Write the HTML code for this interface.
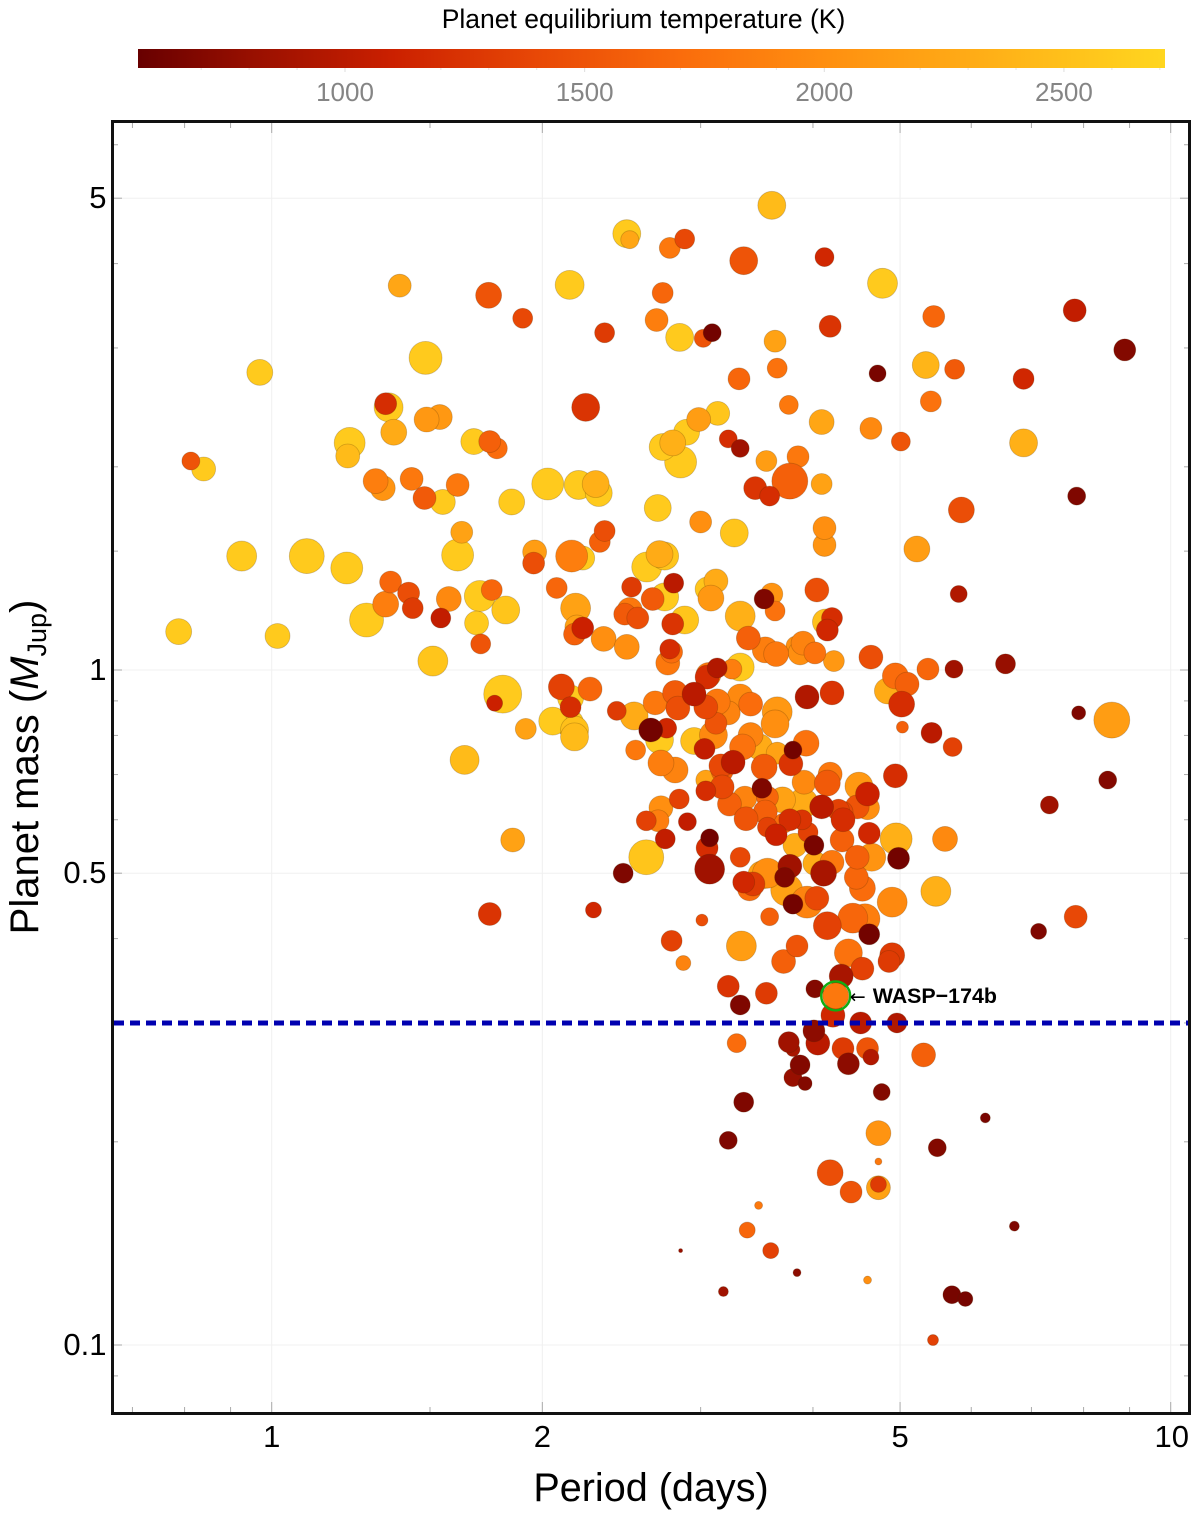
<!DOCTYPE html>
<html lang="en">
<head>
<meta charset="utf-8">
<title>Planet mass vs period</title>
<style>
html,body{margin:0;padding:0;background:#fff;}
svg{display:block;font-family:"Liberation Sans",Arial,sans-serif;}
</style>
</head>
<body>
<svg id="chart" xmlns="http://www.w3.org/2000/svg" width="1200" height="1521" viewBox="0 0 1200 1521">
  <defs>
    <linearGradient id="cbar-gradient" x1="0" x2="1" y1="0" y2="0"></linearGradient>
  </defs>
  <rect x="0" y="0" width="1200" height="1521" fill="#fff"/>
  <text x="643.5" y="28" font-size="26.5" text-anchor="middle" fill="#000">Planet equilibrium temperature (K)</text>
  <rect x="138" y="49" width="1027" height="19" fill="url(#cbar-gradient)"/>
  <g id="cbar-ticks"></g>
  <g id="grid"></g>
  <g id="axis-ticks"></g>
  <g id="points"></g>
  <g id="reference"></g>
  <g id="highlight"></g>
  <rect x="112.5" y="121.5" width="1077" height="1292" fill="none" stroke="#111" stroke-width="3"/>
  <g id="tick-labels"></g>
  <text x="651" y="1501" font-size="39.6" text-anchor="middle" fill="#000">Period (days)</text>
  <text transform="translate(38,767) rotate(-90)" font-size="40" text-anchor="middle" fill="#000">Planet mass (<tspan font-style="italic">M</tspan><tspan font-size="27" dy="8">Jup</tspan><tspan dy="-8">)</tspan></text>
</svg>
<script>
const periods = [
 .788,1.015,.926,.840,.813,.970,1.094,1.212,1.275,1.221,
 1.215,1.349,1.339,1.367,1.388,1.483,1.538,1.487,1.678,1.748,
 1.780,1.743,1.902,1.305,1.329,1.431,1.479,1.550,1.610,1.849,
 2.028,2.195,2.311,2.293,2.688,2.85,2.722,2.793,2.894,2.985,
 3.134,2.235,1.627,1.610,1.356,1.420,1.339,1.435,1.542,1.574,
 1.704,1.757,1.821,1.690,1.708,1.511,1.961,1.956,2.156,2.218,
 2.317,2.346,2.613,2.70,2.736,2.075,2.514,2.80,2.653,2.736,
 2.88,2.793,2.502,2.47,2.554,2.178,2.185,2.172,2.218,2.34,
 2.483,2.772,2.785,2.758,
 3.60,2.483,2.502,2.772,2.88,4.12,3.35,4.78,2.145,2.722,
 5.45,2.68,2.346,2.843,3.02,3.09,4.18,3.63,3.65,4.72,
 5.34,5.75,3.31,3.76,4.09,4.64,5.01,5.41,3.55,3.22,
 3.32,3.85,3.77,3.45,3.58,4.09,3.00,3.27,4.12,4.12,
 5.22,5.85,3.53,3.60,4.04,3.32,4.20,4.13,4.15,3.12,
 3.08,3.05,3.63,3.39,3.54,3.83,3.90,3.64,3.87,4.02,
 4.22,4.64,5.74,5.37,4.94,5.09,4.84,5.02,
 3.32,3.25,3.13,3.05,3.06,2.10,2.26,2.15,2.15,2.145,
 2.172,2.172,2.42,2.53,2.67,2.81,2.83,2.95,3.04,3.13,
 3.22,3.32,3.41,3.65,3.63,3.94,4.20,2.64,2.75,2.70,
 2.54,2.95,3.10,3.03,3.12,3.41,3.34,3.49,3.65,3.80,
 3.93,3.78,3.53,3.26,3.16,3.17,3.17,3.04,3.04,2.71,
 2.81,2.84,2.71,2.69,2.61,2.74,2.90,2.61,2.46,2.28,
 3.01,3.07,3.05,3.07,3.32,3.36,3.23,3.37,3.51,3.56,
 3.70,3.91,4.18,4.15,4.50,4.60,4.94,4.48,4.60,4.31,
 4.09,3.90,3.54,3.77,3.89,3.71,3.56,3.64,3.95,3.82,
 4.01,4.32,4.27,4.31,4.62,4.95,5.61,4.65,4.48,4.20,
 4.02,4.98,3.77,4.11,3.72,3.56,3.51,3.35,3.43,3.40,
 3.74,3.94,4.04,3.80,4.47,4.54,4.90,5.48,4.43,4.57,
 3.58,4.15,4.62,3.33,3.71,3.84,4.38,4.54,4.90,4.86,
 4.30,4.02,3.22,3.55,3.32,4.21,4.52,4.96,3.29,4.01,
 4.05,3.76,3.80,4.32,4.60,4.64,5.31,4.38,3.87,3.80,
 3.92,4.77,3.35,3.22,4.73,5.50,6.22,4.18,4.73,4.73,
 4.73,4.41,3.48,3.38,3.59,6.70,2.85,3.84,4.60,3.18,
 5.71,5.91,5.44,
 8.60,7.90,8.51,7.33,7.13,7.84,6.55,5.81,7.86,6.86,
 6.86,7.82,8.89,5.03,5.42,5.72,
 1.917,1.807,1.77,2.054,1.639,1.854,1.748,2.785,2.87
];
const masses = [
 1.14,1.123,1.475,1.985,2.04,2.76,1.475,1.416,1.186,2.17,
 2.075,2.45,2.48,2.25,3.71,2.90,2.37,2.35,2.18,2.18,
 2.13,3.59,3.32,1.905,1.86,1.919,1.798,1.774,1.88,1.774,
 1.886,1.88,1.829,1.886,1.738,2.033,2.14,2.17,2.25,2.35,
 2.40,2.45,1.60,1.48,1.35,1.30,1.252,1.235,1.194,1.274,
 1.287,1.314,1.227,1.174,1.093,1.031,1.496,1.44,1.475,1.465,
 1.548,1.607,1.421,1.485,1.475,1.323,1.327,1.345,1.274,1.283,
 1.186,1.170,1.227,1.210,1.194,1.235,1.158,1.130,1.154,1.112,
 1.082,1.074,1.063,1.024,
 4.88,4.43,4.34,4.22,4.35,4.09,4.04,3.74,3.72,3.62,
 3.34,3.30,3.16,3.11,3.10,3.16,3.23,3.07,2.80,2.75,
 2.83,2.79,2.70,2.47,2.33,2.28,2.18,2.50,2.04,2.20,
 2.13,2.07,1.905,1.86,1.81,1.886,1.657,1.596,1.623,1.532,
 1.511,1.726,1.274,1.296,1.314,1.202,1.194,1.178,1.146,1.355,
 1.278,1.318,1.223,1.115,1.071,1.085,1.096,1.056,1.060,1.06,
 1.031,1.045,1.003,1.003,.980,.953,.931,.890,
 1.01,1.003,1.007,.976,.983,.944,.937,.909,.881,.834,
 .796,.815,.870,.855,.894,.925,.878,.921,.881,.897,
 .864,.912,.890,.867,.832,.912,.925,.815,.820,.788,
 .761,.785,.801,.764,.834,.801,.769,.769,.753,.761,
 .779,.726,.718,.730,.721,.708,.671,.662,.687,.728,
 .711,.644,.625,.598,.598,.562,.596,.528,.500,.441,
 .426,.564,.545,.507,.528,.646,.633,.602,.668,.648,
 .642,.682,.701,.680,.673,.655,.697,.627,.625,.616,
 .627,.635,.616,.600,.600,.593,.585,.570,.575,.550,
 .550,.600,.620,.560,.573,.562,.562,.528,.528,.519,
 .517,.526,.512,.500,.493,.500,.497,.485,.482,.474,
 .472,.453,.459,.450,.493,.475,.453,.470,.429,.428,
 .431,.418,.406,.390,.370,.390,.381,.361,.378,.370,
 .352,.337,.340,.332,.319,.308,.300,.300,.280,.292,
 .280,.281,.274,.275,.275,.267,.269,.261,.260,.249,
 .244,.237,.229,.201,.206,.196,.217,.180,.187,.171,
 .173,.1685,.161,.148,.138,.150,.138,.128,.1248,.120,
 .1187,.117,.1017,
 .843,.864,.687,.631,.410,.431,1.021,1.296,1.81,2.17,
 2.70,3.41,2.98,.823,.807,.769,
 .818,.921,.893,.840,.736,.560,.435,.397,.368
];
const radii = [
 1.3,1.25,1.5,1.2,.9,1.3,1.75,1.6,1.7,1.55,
 1.2,1.45,1.1,1.3,1.15,1.65,1.25,1.25,1.3,1.1,
 1.05,1.3,1.0,1.25,1.25,1.15,1.15,1.25,1.15,1.3,
 1.6,1.45,1.35,1.35,1.35,1.6,1.35,1.3,1.3,1.2,
 1.2,1.4,1.1,1.6,1.1,1.1,1.3,1.05,1.0,1.25,
 1.55,1.05,1.4,1.2,1.0,1.5,1.2,1.1,1.6,1.2,
 1.05,1.05,1.5,1.35,1.4,1.05,1.0,1.0,1.15,1.4,
 1.4,1.1,1.25,1.1,1.1,1.5,1.2,1.1,1.1,1.25,
 1.25,1.0,1.1,1.2,
 1.4,1.4,.9,1.05,1.0,.95,1.4,1.5,1.45,1.05,
 1.1,1.15,1.0,1.4,.9,.9,1.1,1.1,1.0,.85,
 1.35,1.0,1.1,.95,1.25,1.1,.95,1.05,1.05,.9,
 .9,1.1,1.8,1.15,1.0,1.05,1.1,1.4,1.15,1.15,
 1.3,1.3,1.0,1.1,1.2,1.5,1.05,1.3,1.1,1.2,
 1.3,1.2,1.0,1.2,1.3,1.0,1.2,1.25,1.2,1.1,
 1.05,1.2,.9,1.1,1.3,1.2,1.3,1.3,
 1.4,1.0,1.0,1.2,1.25,1.3,1.2,1.3,1.05,1.4,
 1.4,1.4,.95,1.4,1.2,1.25,1.2,1.2,1.2,1.3,
 1.2,1.3,1.2,1.5,1.4,1.2,1.2,1.2,1.0,1.4,
 1.0,1.35,1.4,1.05,1.1,1.25,1.3,1.3,1.1,.9,
 1.3,1.2,1.3,1.2,1.2,1.1,1.2,1.0,1.0,1.3,
 1.3,1.0,1.2,1.1,1.0,1.0,.9,1.75,1.0,.8,
 .6,.9,1.1,1.5,1.0,1.2,1.2,1.2,1.0,1.1,
 1.3,1.2,1.2,1.3,1.4,1.2,1.2,1.2,1.2,1.1,
 1.2,1.5,1.2,1.1,1.0,1.0,1.0,1.1,1.0,1.2,
 1.0,1.2,1.1,1.2,1.1,1.6,1.25,1.4,1.2,1.2,
 1.2,1.1,1.2,1.3,1.0,1.5,1.4,1.1,1.2,1.2,
 1.6,1.6,1.2,1.0,1.2,1.3,1.5,1.5,1.5,1.5,
 .9,1.4,1.05,1.5,1.2,1.1,1.4,1.15,1.25,1.1,
 1.2,.9,1.1,1.1,1.0,1.2,1.1,1.0,.95,1.1,
 1.2,1.05,.7,1.1,1.1,.8,1.2,1.1,1.0,.9,
 .7,.85,1.0,.9,1.25,.9,.5,1.3,.35,1.2,
 .8,1.1,.4,.8,.8,.5,.2,.4,.4,.5,
 .9,.75,.55,
 1.8,.7,.9,.9,.8,1.15,1.0,.85,.9,1.4,
 1.05,1.15,1.1,.6,1.05,.95,
 1.05,1.9,.8,1.4,1.45,1.2,1.15,1.05,.75
];
const temps = [
 2600,2600,2600,2600,1500,2600,2600,2600,2600,2600,
 2450,2600,1200,2300,2250,2600,2100,2100,2600,1600,
 1700,1500,1400,1850,2050,1800,1550,2600,1800,2600,
 2600,2600,2600,2350,2600,2600,2600,2350,2600,2150,
 2550,1250,2200,2600,1650,1450,1850,1300,1050,1950,
 2600,1650,2550,2600,1500,2550,2150,1450,1850,2600,
 1600,1450,2600,2300,2550,1650,1300,1000,1550,2600,
 2550,1250,1800,1550,1450,2200,2200,1600,1100,2000,
 2000,1200,1700,1800,
 2450,2600,2250,1800,1400,1150,1500,2600,2600,1650,
 1650,1850,1300,2600,1500,620,1250,2200,1750,650,
 2400,1550,1650,1800,2250,1950,1500,1750,2150,1200,
 850,1800,1600,1250,1200,2200,2000,2550,2000,2050,
 2150,1450,680,2050,1450,2350,1200,2500,1150,2300,
 2100,2550,1750,1600,1850,2000,1900,1800,2000,1750,
 2100,1450,850,1650,1700,1600,2300,1200,
 2600,1850,950,1200,1800,1350,1650,2600,1200,2600,
 2450,2500,1300,2300,1800,1550,1450,1000,1400,1800,
 1900,1950,1700,2100,2000,950,1250,620,1150,2600,
 1800,2500,1950,1050,1500,1900,1750,2300,2200,620,
 1750,1250,1550,1000,1400,1600,1400,1200,2200,1850,
 1900,1350,2000,1850,1350,1050,1050,2550,680,1150,
 1450,620,1200,850,1400,1900,1600,1500,680,1650,
 2200,1950,1800,1550,2100,1100,1200,1500,2000,1400,
 1000,2300,1600,1200,1250,1700,1350,1100,1350,2300,
 650,1200,1350,1600,1150,2350,1950,2050,1600,1800,
 2300,620,850,900,680,2000,2200,1150,1300,1700,
 2200,1900,1400,620,1650,1700,1950,2350,1650,1850,
 1600,1350,620,2150,1600,1500,1750,1350,1300,1300,
 900,700,1250,1300,680,1150,1000,950,1700,750,
 1000,850,900,1300,1500,950,1600,750,700,800,
 700,700,680,680,2050,700,650,1450,1800,2200,
 1300,1500,1800,1650,1350,680,800,750,2000,850,
 640,640,1350,
 2150,680,700,850,680,1400,800,950,680,2350,
 1150,1050,700,1600,1000,1350,
 2200,2600,1100,2600,2450,2200,1250,1350,1900
];
const targetPeriod = [4.24];
const targetMass = [0.329];
const targetRadius = [1.3];
const targetTemp = [1800];
const referenceMass = [0.3];

const xMajorTicks = [1, 2, 5, 10];
const xMinorTicks = [0.7, 0.8, 0.9, 1.5, 3, 4, 6, 7, 8, 9];
const yLabelTicks = [5, 1, 0.5, 0.1];
const yLabelText = ["5", "1", "0.5", "0.1"];
const yMinorTicks = [6, 4, 3, 2, 1.5, 0.9, 0.8, 0.7, 0.6, 0.4, 0.3, 0.2, 0.09];
const colorbarTicks = [1000, 1500, 2000, 2500];
const colorbarMinorTicks = [700, 800, 900, 1200, 1300, 1400, 1700, 1800, 1900, 2200, 2300, 2400, 2600, 2700];
const rampTemps = [568, 800, 1100, 1400, 1700, 2000, 2300, 2711];
const rampColors = ["#680000", "#970f00", "#cb2000", "#e84806", "#fa6c0c", "#ff8f10", "#ffab16", "#ffd61f"];

const NS = "http://www.w3.org/2000/svg";
function xScale(p) { return 271.7 + 899 * Math.log10(p); }
function yScale(m) { return 670 - 675 * Math.log10(m); }
function rScale(r) { return r * 10; }
function cbarScale(t) { return 345 + (t - 1000) * 0.4793; }
function hex(c) { return [1, 3, 5].map(function (i) { return parseInt(c.substr(i, 2), 16); }); }
function tempColor(t) {
  let i = 0;
  while (i < rampTemps.length - 2 && t > rampTemps[i + 1]) i++;
  const f = Math.max(0, Math.min(1, (t - rampTemps[i]) / (rampTemps[i + 1] - rampTemps[i])));
  const a = hex(rampColors[i]), b = hex(rampColors[i + 1]);
  return "rgb(" + a.map(function (v, k) { return Math.round(v + (b[k] - v) * f); }).join(",") + ")";
}
function make(tag, parent, attrs, text) {
  const el = document.createElementNS(NS, tag);
  Object.keys(attrs).forEach(function (k) { el.setAttribute(k, attrs[k]); });
  if (text !== undefined) el.textContent = text;
  parent.appendChild(el);
  return el;
}

const gradient = document.getElementById("cbar-gradient");
rampTemps.forEach(function (t, i) {
  make("stop", gradient, { offset: ((t - 568) / (2711 - 568) * 100) + "%", "stop-color": rampColors[i] });
});

const cbarGroup = document.getElementById("cbar-ticks");
colorbarTicks.forEach(function (t) {
  const x = cbarScale(t);
  const tick = make("line", cbarGroup, { x1: x, x2: x, y1: 68, y2: 72, stroke: "#ddd", "stroke-width": 1 });
  
  
  const label = make("text", cbarGroup, { x: x, y: 101, "font-size": 26, "text-anchor": "middle", fill: "#858585" }, String(t));
  
  
});
colorbarMinorTicks.forEach(function (t) {
  const x = cbarScale(t);
  const tick = make("line", cbarGroup, { x1: x, x2: x, y1: 68, y2: 70, stroke: "#e4e4e4", "stroke-width": 1 });
  
  
});

const gridGroup = document.getElementById("grid");
const tickGroup = document.getElementById("axis-ticks");
const labelGroup = document.getElementById("tick-labels");
function xTick(p, len) {
  const x = xScale(p);
  const bottom = make("line", tickGroup, { x1: x, x2: x, y1: 1413, y2: 1413 - len, stroke: "#aaa", "stroke-width": 1 });
  
  
  const top = make("line", tickGroup, { x1: x, x2: x, y1: 122, y2: 122 + len, stroke: "#aaa", "stroke-width": 1 });
  
  
}
function yTick(m, len) {
  const y = yScale(m);
  const left = make("line", tickGroup, { x1: 113, x2: 113 + len, y1: y, y2: y, stroke: "#aaa", "stroke-width": 1 });
  
  
  const right = make("line", tickGroup, { x1: 1189, x2: 1189 - len, y1: y, y2: y, stroke: "#aaa", "stroke-width": 1 });
  
  
}
xMajorTicks.forEach(function (p) {
  const x = xScale(p);
  const g = make("line", gridGroup, { x1: x, x2: x, y1: 122, y2: 1413, stroke: "#f0f0f0", "stroke-width": 1 });
  
  
  xTick(p, 11);
  const t = make("text", labelGroup, { x: p === 10 ? x + 1 : x, y: 1447, "font-size": 31, "text-anchor": "middle", fill: "#000" }, String(p));
  
  
});
xMinorTicks.forEach(function (p) { xTick(p, 6); });
yLabelTicks.forEach(function (m, i) {
  const y = yScale(m);
  const g = make("line", gridGroup, { x1: 113, x2: 1189, y1: y, y2: y, stroke: "#f0f0f0", "stroke-width": 1 });
  
  
  yTick(m, 9);
  const t = make("text", labelGroup, { x: 106.5, y: y + 10, "font-size": 31, "text-anchor": "end", fill: "#000" }, yLabelText[i]);
  
  
});
yMinorTicks.forEach(function (m) { yTick(m, 5); });

const pointGroup = document.getElementById("points");
const drawOrder = periods.map(function (_, i) { return i; }).sort(function (a, b) { return temps[b] - temps[a] || a - b; });
drawOrder.forEach(function (i) {
  const c = make("circle", pointGroup, {
    cx: xScale(periods[i]), cy: yScale(masses[i]), r: rScale(radii[i]),
    fill: tempColor(temps[i]), stroke: "rgba(70,40,0,0.25)", "stroke-width": 0.8
  });
  
  
});

const refGroup = document.getElementById("reference");
const refLine = make("line", refGroup, {
  x1: 114, x2: 1189, y1: yScale(referenceMass[0]), y2: yScale(referenceMass[0]),
  stroke: "#0000b0", "stroke-width": 5, "stroke-dasharray": "10 6"
});



const hl = document.getElementById("highlight");
const hx = xScale(targetPeriod[0]), hy = yScale(targetMass[0]);
const hDot = make("circle", hl, { cx: hx, cy: hy, r: rScale(targetRadius[0]), fill: tempColor(targetTemp[0]), stroke: "rgba(70,40,0,0.25)", "stroke-width": 0.8 });


const hRing = make("circle", hl, { cx: hx, cy: hy, r: rScale(targetRadius[0]) + 1.5, fill: "none", stroke: "#12ad12", "stroke-width": 2.4 });


const hArrow = make("text", hl, { x: hx + 14, y: hy + 7, "font-size": 19, "font-family": '"DejaVu Sans",sans-serif', fill: "#000" }, "←");


const hLabel = make("text", hl, { x: hx + 37, y: hy + 7, "font-size": 21.4, "font-weight": "bold", fill: "#000" }, "WASP−174b");


</script>
</body>
</html>
